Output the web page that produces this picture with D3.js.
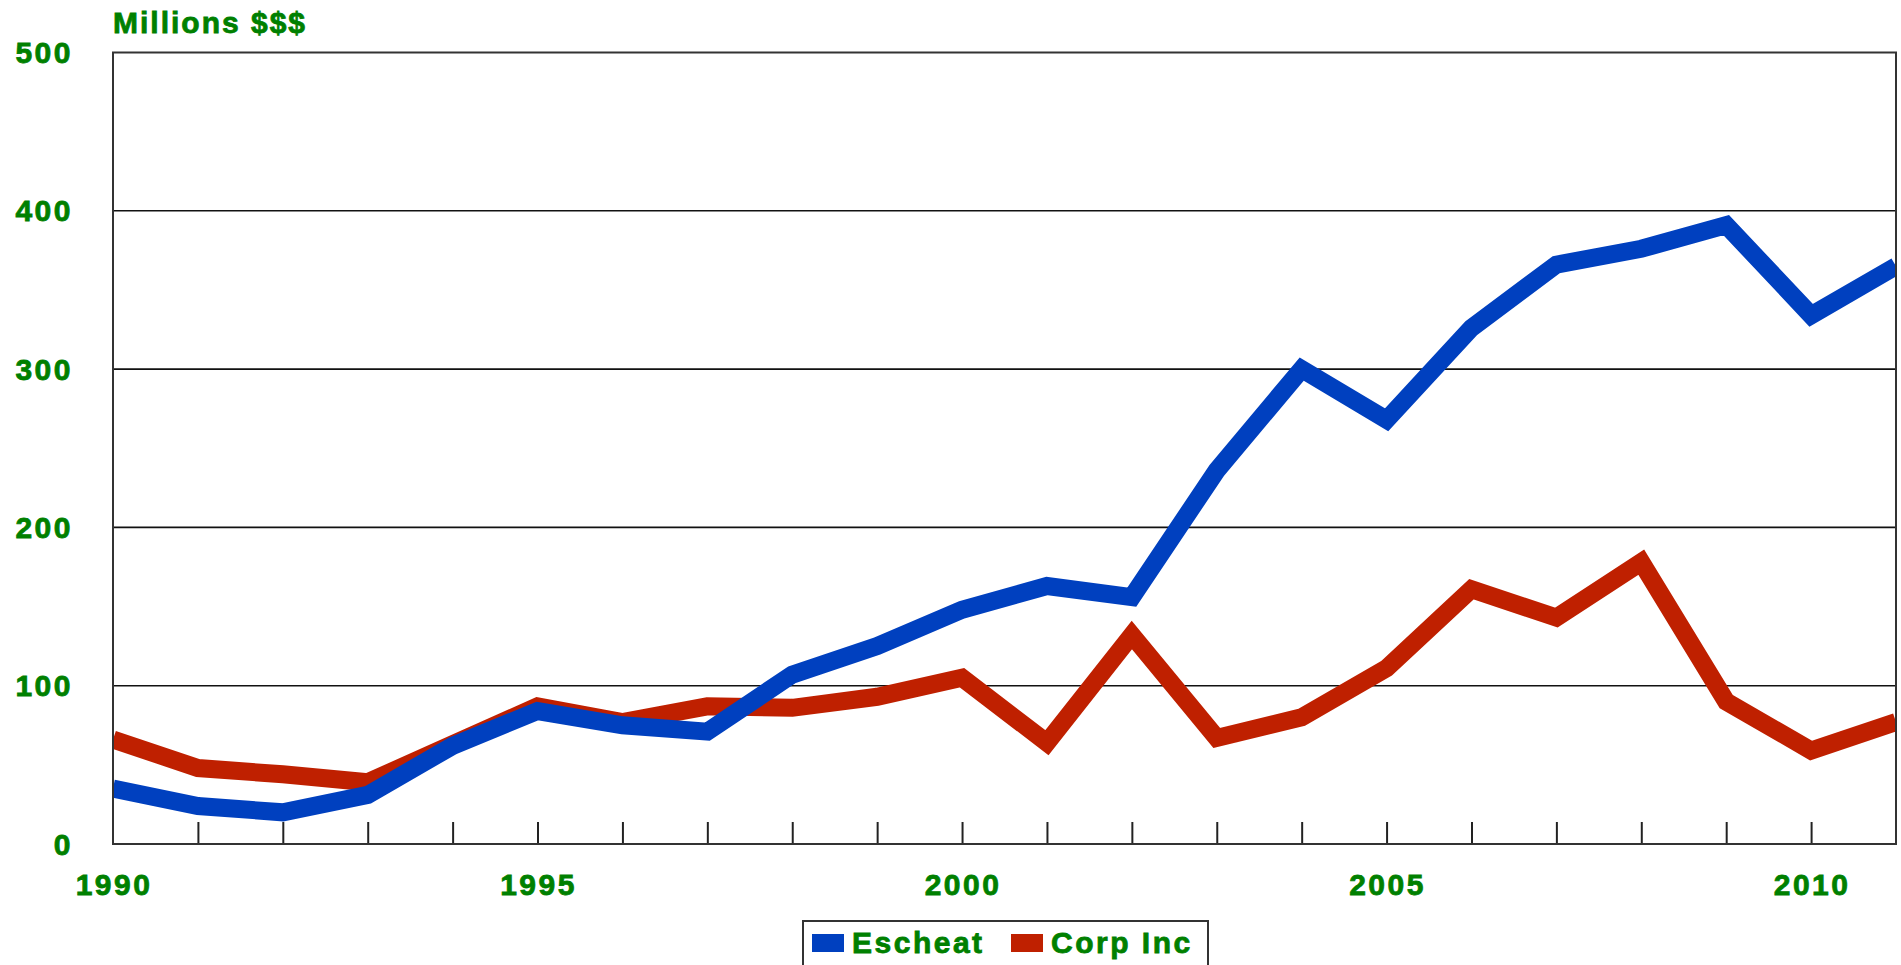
<!DOCTYPE html>
<html>
<head>
<meta charset="utf-8">
<script src="https://cdn.jsdelivr.net/npm/d3@7"></script>
<style>
  html, body { margin: 0; padding: 0; background: #fff; overflow: hidden; }
  svg text { font-family: "Liberation Sans", Arial, sans-serif; font-weight: bold; fill: #008000; stroke: #008000; stroke-width: 0.8px; }
</style>
</head>
<body>
<div id="chart"></div>
<script>
// data (millions of dollars)
var years = d3.range(1990, 2012);
var escheat = [35, 24, 20, 31, 62, 84, 75, 71, 107, 125, 148, 163, 156, 236, 300, 268, 326, 366, 376, 391, 334, 365];
var corpInc = [66, 48, 44, 39, 63, 87, 77, 87, 86, 93, 105, 64, 132, 67, 80, 111, 161, 143, 178, 90, 59, 77];
var yTicks = [0, 100, 200, 300, 400, 500];
var xLabels = [1990, 1995, 2000, 2005, 2010];
var seriesNames = ["Escheat", "Corp Inc"];
var seriesColors = ["#0040BF", "#BF2000"];

var width = 1901, height = 965;
var plot = {left: 113, right: 1896, top: 52.5, bottom: 844};

var svg = d3.select("#chart").append("svg")
    .attr("width", width)
    .attr("height", height);

var x = d3.scaleLinear().domain([1990, 2011]).range([plot.left, plot.right]);
var y = d3.scaleLinear().domain([0, 500]).range([plot.bottom, plot.top]);

// clip so line ends are cut at the frame
svg.append("defs").append("clipPath")
    .attr("id", "plotClip")
    .append("rect")
    .attr("x", plot.left)
    .attr("y", plot.top)
    .attr("width", plot.right - plot.left)
    .attr("height", plot.bottom - plot.top);

// horizontal grid lines
svg.append("g")
    .attr("class", "grid")
    .selectAll("line")
    .data(yTicks.slice(1, -1))
    .enter()
    .append("line")
    .attr("x1", plot.left)
    .attr("x2", plot.right)
    .attr("y1", function(d) { return y(d); })
    .attr("y2", function(d) { return y(d); })
    .attr("stroke", "#111")
    .attr("stroke-width", 1.6);

// year ticks pointing up from the bottom axis
var xAxis = d3.axisBottom(x)
    .tickValues(years.slice(1, -1))
    .tickSizeInner(-22)
    .tickSizeOuter(0)
    .tickFormat("");
var xAxisG = svg.append("g")
    .attr("transform", "translate(0," + plot.bottom + ")")
    .call(xAxis);
xAxisG.select(".domain").remove();
xAxisG.selectAll(".tick line")
    .attr("stroke", "#222")
    .attr("stroke-width", 2);

// lines
var line = d3.line()
    .x(function(d, i) { return x(years[i]); })
    .y(function(d) { return y(d); });

var lines = svg.append("g").attr("clip-path", "url(#plotClip)");
[corpInc, escheat].forEach(function(series, k) {
    lines.append("path")
        .datum(series)
        .attr("fill", "none")
        .attr("stroke", k == 0 ? seriesColors[1] : seriesColors[0])
        .attr("stroke-width", 18)
        .attr("stroke-linejoin", "miter")
        .attr("d", line);
});

// frame
svg.append("rect")
    .attr("x", plot.left)
    .attr("y", plot.top)
    .attr("width", plot.right - plot.left)
    .attr("height", plot.bottom - plot.top)
    .attr("fill", "none")
    .attr("stroke", "#333")
    .attr("stroke-width", 2);

// y labels
svg.append("g")
    .selectAll(".yLabel")
    .data(yTicks)
    .enter()
    .append("text")
    .attr("class", "yLabel")
    .attr("x", 73)
    .attr("y", function(d) { return y(d) + 10.5; })
    .style("font-size", "30px")
    .style("letter-spacing", "2.5px")
    .style("text-anchor", "end")
    .text(function(d) { return d; });

// x labels
svg.append("g")
    .selectAll(".xLabel")
    .data(xLabels)
    .enter()
    .append("text")
    .attr("class", "xLabel")
    .attr("x", function(d) { return x(d) + 1; })
    .attr("y", 895)
    .style("font-size", "30px")
    .style("letter-spacing", "2.5px")
    .style("text-anchor", "middle")
    .text(function(d) { return d; });

// unit title
svg.append("text")
    .attr("x", 113)
    .attr("y", 33)
    .style("font-size", "30px")
    .style("letter-spacing", "2px")
    .text("Millions $$$");

// legend
var legend = svg.append("g").attr("class", "legend");
legend.append("rect")
    .attr("x", 803)
    .attr("y", 921)
    .attr("width", 405)
    .attr("height", 60)
    .attr("fill", "#fff")
    .attr("stroke", "#333")
    .attr("stroke-width", 2);

var legendX = [812, 1011];
seriesNames.forEach(function(name, i) {
    legend.append("rect")
        .attr("x", legendX[i])
        .attr("y", 934)
        .attr("width", 32)
        .attr("height", 18)
        .attr("fill", seriesColors[i]);
    legend.append("text")
        .attr("x", legendX[i] + 40)
        .attr("y", 952.5)
        .style("font-size", "30px")
        .style("letter-spacing", "2.5px")
        .text(name);
});
</script>
</body>
</html>
